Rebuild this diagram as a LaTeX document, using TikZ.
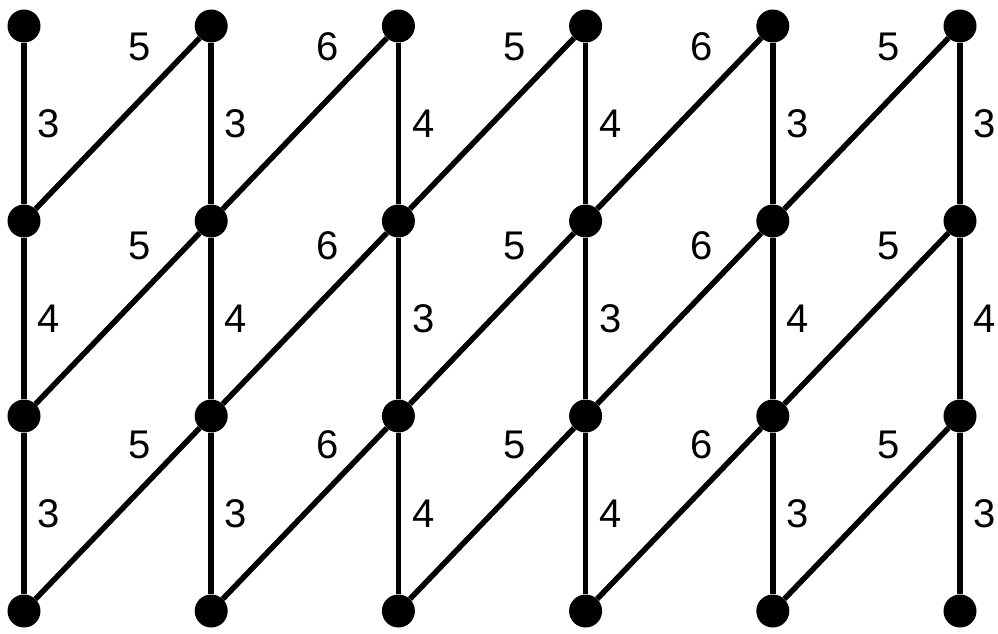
\documentclass[tikz,border=0pt]{standalone}
\usepackage{fontspec}
\setmainfont{Liberation Sans}
\begin{document}
\begin{tikzpicture}[x=1pt,y=-1pt,
  dot/.style={circle,fill=black,inner sep=0pt,minimum size=33pt},
  edge/.style={line width=5.5pt},
  lab/.style={font=\fontsize{40}{48}\selectfont,inner sep=0pt}]
\useasboundingbox (0,0) rectangle (998,633);
\foreach \i in {0,...,5} {
  \foreach \r in {0,...,3} {
    \pgfmathsetmacro\xx{24+187.2*\i}
    \pgfmathsetmacro\yy{26+195*\r}
    \node[dot] (n\i\r) at (\xx,\yy) {};
  }
}
% vertical edges
\foreach \i/\a/\b/\c in {0/3/4/3,1/3/4/3,2/4/3/4,3/4/3/4,4/3/4/3,5/3/4/3} {
  \draw[edge] (n\i0) -- node[lab,right=11pt]{\a} (n\i1);
  \draw[edge] (n\i1) -- node[lab,right=11pt]{\b} (n\i2);
  \draw[edge] (n\i2) -- node[lab,right=11pt]{\c} (n\i3);
}
% diagonal edges
\foreach \i/\j/\l in {0/1/5,1/2/6,2/3/5,3/4/6,4/5/5} {
  \foreach \r/\s/\d in {0/1/21,1/2/25,2/3/29} {
    \draw[edge] (n\i\s) -- (n\j\r);
    \node[lab] at ([shift={(116,\d)}]n\i\r) {\l};
  }
}
\end{tikzpicture}
\end{document}
